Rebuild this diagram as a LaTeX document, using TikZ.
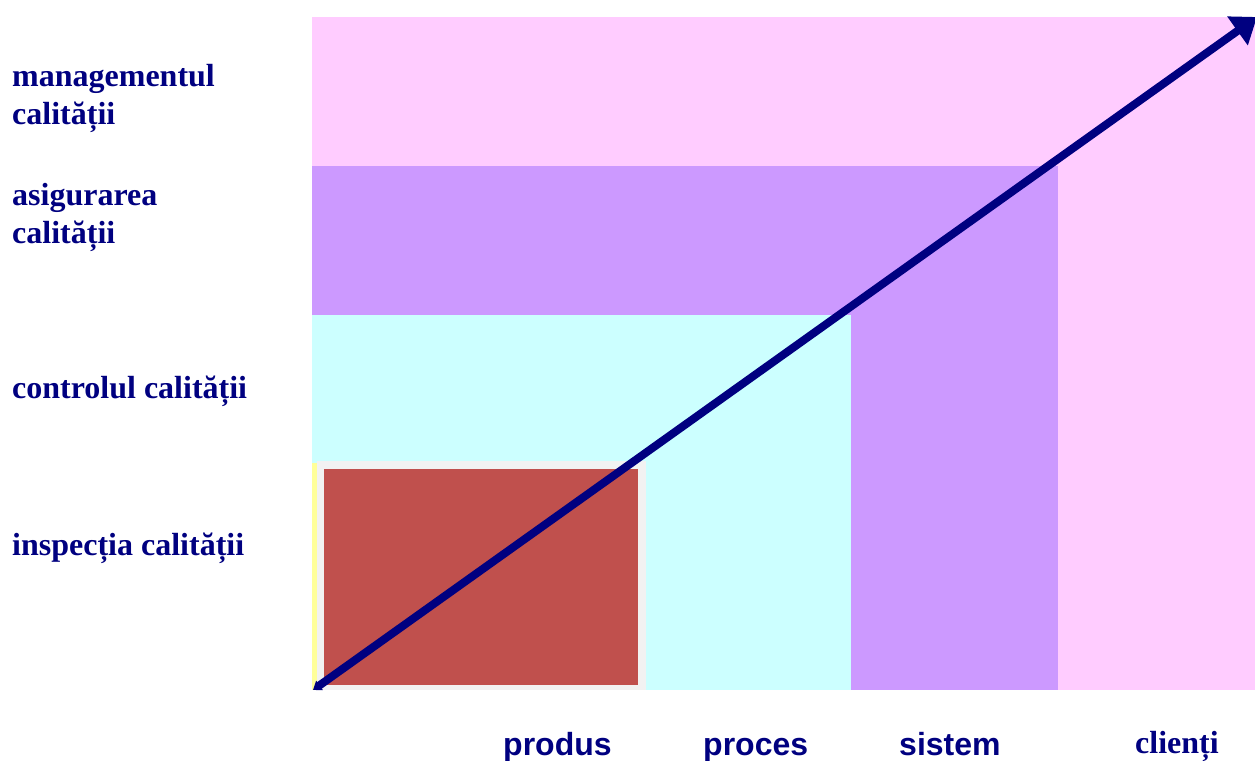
\documentclass[tikz,border=0pt]{standalone}
\usepackage{fontspec}
\setmainfont{Liberation Serif}
\newfontfamily\arialbold{Liberation Sans}[BoldFont={* Bold}]
\usetikzlibrary{arrows.meta}
\definecolor{navytext}{RGB}{0,0,128}
\definecolor{mgmtpink}{RGB}{255,204,255}
\definecolor{assurpurple}{RGB}{204,153,255}
\definecolor{ctrlcyan}{RGB}{204,255,255}
\definecolor{inspred}{RGB}{192,80,77}
\definecolor{frameGrey}{RGB}{242,242,242}
\definecolor{edgeYellow}{RGB}{255,255,153}
\begin{document}
\begin{tikzpicture}[x=1pt,y=-1pt,
  levellabel/.style={anchor=base west,inner sep=0pt,font=\fontsize{32}{38}\selectfont\bfseries,text=navytext,align=left},
  axislabel/.style={anchor=base west,inner sep=0pt,font=\fontsize{32}{38}\selectfont\arialbold\bfseries,text=navytext},
  clientlabel/.style={anchor=base west,inner sep=0pt,font=\fontsize{32}{38}\selectfont\bfseries,text=navytext}]
\useasboundingbox (0,0) rectangle (1255,760);
% nested quality levels
\fill[mgmtpink] (312,17) rectangle (1255,690);
\fill[assurpurple] (312,166) rectangle (1058,690);
\fill[ctrlcyan] (312,315) rectangle (851,690);
\fill[edgeYellow] (312,463) rectangle (317,690);
\fill[frameGrey] (317,461) rectangle (646,690);
\fill[inspred] (324,469) rectangle (638,685);
% level labels (two-line nodes are anchored on their last line)
\node[levellabel] (lmgmt) at (12,124) {managementul\\calității};
\node[levellabel] (lasig) at (12,243) {asigurarea\\calității};
\node[levellabel] (lctrl) at (12,398) {controlul calității};
\node[levellabel] (linsp) at (12,555) {inspecția calității};
% scope labels
\node[axislabel] (bprod) at (503,755) {produs};
\node[axislabel] (bproc) at (703,755) {proces};
\node[axislabel] (bsist) at (899,755) {sistem};
\node[clientlabel] (bclie) at (1135,753) {clienți};
% evolution arrow
\coordinate (start) at (313,690);
\coordinate (tip) at (1257,17);
\draw[navytext,line width=8pt,{Triangle[length=8pt,width=11pt]}-{Triangle[length=24pt,width=34pt]}] (start) -- (tip);
\end{tikzpicture}
\end{document}
